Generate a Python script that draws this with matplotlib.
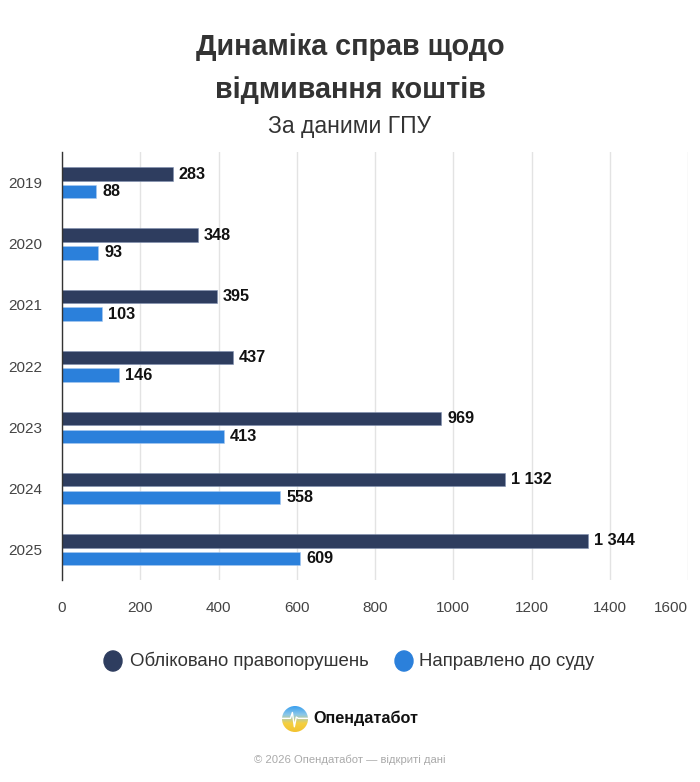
import numpy as np
import matplotlib.pyplot as plt
from matplotlib.patches import Circle
from matplotlib.colors import LinearSegmentedColormap

plt.rcParams['font.family'] = ['Liberation Sans', 'DejaVu Sans']

# ДАНІ
years = ['2019', '2020', '2021', '2022', '2023', '2024', '2025']
registered = [283, 348, 395, 437, 969, 1132, 1344]
to_court = [88, 93, 103, 146, 413, 558, 609]
xticks = [0, 200, 400, 600, 800, 1000, 1200, 1400, 1600]

c_dark = '#2E3D5F'
c_light = '#2B80DB'

fig = plt.figure(figsize=(7, 7.82), dpi=100)
ax = fig.add_axes([0.0886, 0.2583, 0.8943, 0.5473])

y = np.arange(len(years))
h = 0.22
ax.barh(y - 0.14, registered, height=h, color=c_dark, edgecolor='#8090b0', linewidth=0.4, zorder=3)
ax.barh(y + 0.15, to_court, height=h, color=c_light, edgecolor='#a8c8f0', linewidth=0.4, zorder=3)


def fmt(v):
    return f'{v:,}'.replace(',', ' ')


for i in range(len(years)):
    ax.text(registered[i] + 15, y[i] - 0.14, fmt(registered[i]), va='center', ha='left',
            fontsize=11.7, fontweight='bold', color='#111111')
    ax.text(to_court[i] + 15, y[i] + 0.15, fmt(to_court[i]), va='center', ha='left',
            fontsize=11.7, fontweight='bold', color='#111111')

ax.set_xlim(0, 1600)
ax.set_ylim(6.5, -0.5)
ax.set_xticks(xticks)
ax.set_xticklabels([str(t) for t in xticks], fontsize=11, color='#444444')
ax.get_xticklabels()[-1].set_horizontalalignment('right')
ax.get_xticklabels()[-1].set_x(1600)
ax.set_yticks(y)
ax.set_yticklabels(years, fontsize=11, color='#444444')
ax.tick_params(axis='both', length=0)
ax.tick_params(axis='x', pad=15)
ax.tick_params(axis='y', pad=14)
ax.grid(axis='x', color='#e3e3e3', linewidth=1, zorder=0)
for s in ['top', 'right', 'bottom']:
    ax.spines[s].set_visible(False)
ax.spines['left'].set_color('#333333')
ax.spines['left'].set_linewidth(1)
ax.spines['left'].set_zorder(4)

# Заголовок
fig.text(0.5, 1 - 47 / 782, 'Динаміка справ щодо', ha='center', va='center',
         fontsize=20.7, fontweight='bold', color='#333333')
fig.text(0.5, 1 - 90 / 782, 'відмивання коштів', ha='center', va='center',
         fontsize=20.7, fontweight='bold', color='#333333')
fig.text(0.5, 1 - 127 / 782, 'За даними ГПУ', ha='center', va='center',
         fontsize=16.5, color='#333333')

# Легенда
ly = 1 - 661 / 782
fig.patches.append(Circle((113 / 700, ly), 9 / 700, transform=fig.transFigure,
                          color=c_dark, figure=fig))
fig.text(130 / 700, ly, 'Обліковано правопорушень', ha='left', va='center',
         fontsize=13.4, color='#333333')
fig.patches.append(Circle((404 / 700, ly), 9 / 700, transform=fig.transFigure,
                          color=c_light, figure=fig))
fig.text(419 / 700, ly, 'Направлено до суду', ha='left', va='center',
         fontsize=13.4, color='#333333')

# Логотип
lax = fig.add_axes([282 / 700, 1 - 732 / 782, 26 / 700, 26 / 782])
grad = np.linspace(0, 1, 100).reshape(-1, 1)
cm = LinearSegmentedColormap.from_list('ua', ['#f2c230', '#f5d040', '#8cc8e8', '#3aa0f0'])
im = lax.imshow(grad, aspect='auto', cmap=cm, origin='lower', extent=(-1, 1, -1, 1))
circ = Circle((0, 0), 1, transform=lax.transData)
im.set_clip_path(circ)
lax.plot([-1, -0.35, -0.2, -0.05, 0.1, 0.25, 1], [0.05, 0.05, 0.5, -0.6, 0.15, 0.05, 0.05],
         color='white', linewidth=1)
lax.set_xlim(-1, 1)
lax.set_ylim(-1, 1)
lax.axis('off')
fig.text(313 / 700, 1 - 718 / 782, 'Опендатабот', ha='left', va='center',
         fontsize=11.7, fontweight='bold', color='#111111')

fig.text(0.5, 1 - 760 / 782, '© 2026 Опендатабот — відкриті дані', ha='center', va='center',
         fontsize=8.1, color='#aaaaaa')

fig.savefig('out.png', dpi=100, facecolor='white')
